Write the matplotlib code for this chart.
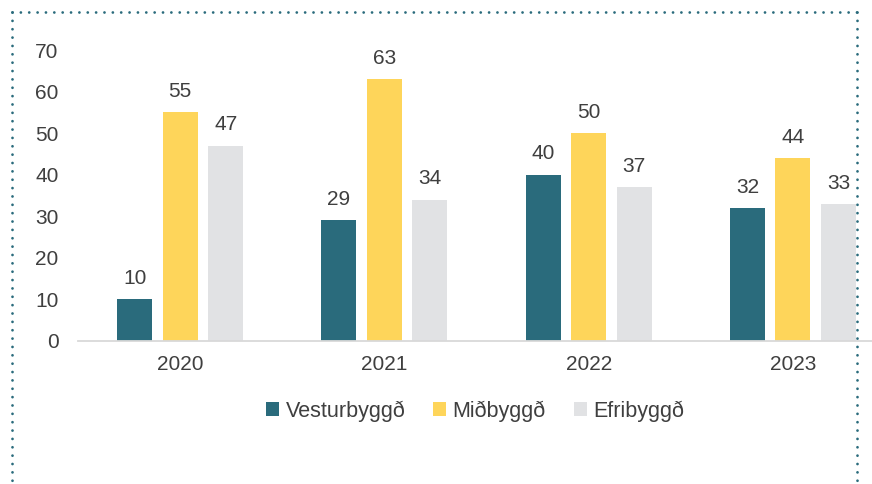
import matplotlib
matplotlib.use("Agg")
import matplotlib.pyplot as plt
from matplotlib.lines import Line2D
import numpy as np

plt.rcParams['font.family'] = ['Liberation Sans', 'DejaVu Sans']

years = ["2020", "2021", "2022", "2023"]
series_names = ["Vesturbyggð", "Miðbyggð", "Efribyggð"]
vesturbyggd = [10, 29, 40, 32]
midbyggd = [55, 63, 50, 44]
efribyggd = [47, 34, 37, 33]
yticks = [0, 10, 20, 30, 40, 50, 60, 70]

colors = ["#2a6b7c", "#fed55a", "#e1e2e4"]
text_color = "#3f3f3f"

W, H = 872, 484
fig = plt.figure(figsize=(W / 100, H / 100), dpi=100)
ax_left, ax_right = 78 / W, 895 / W
ax_bottom, ax_top = (H - 341) / H, (H - 50) / H
ax = fig.add_axes([ax_left, ax_bottom, ax_right - ax_left, ax_top - ax_bottom])

x = np.arange(len(years))
bw = 35 / 204
step = 45.5 / 204
handles = []
for i, (vals, name) in enumerate(zip([vesturbyggd, midbyggd, efribyggd], series_names)):
    pos = x + (i - 1) * step
    b = ax.bar(pos, vals, width=bw, color=colors[i], label=name, zorder=2)
    handles.append(b)
    for p, v in zip(pos, vals):
        ax.text(p, v + 2.7, str(v), ha='center', va='bottom', fontsize=15, color=text_color)

ax.set_xlim(-0.5, 3.5)
ax.set_ylim(0, 70)
ax.set_xticks(x)
ax.set_xticklabels(years)
ax.set_yticks(yticks)
for s in ['top', 'right', 'left']:
    ax.spines[s].set_visible(False)
ax.spines['bottom'].set_color('#d9d9d9')
ax.spines['bottom'].set_linewidth(1.3)
ax.tick_params(axis='both', length=0, labelsize=15, colors=text_color)
ax.tick_params(axis='y', pad=14)
ax.tick_params(axis='x', pad=10)

leg = fig.legend(handles=handles, labels=series_names, loc='center',
                 bbox_to_anchor=(475 / W, 1 - 411 / H), ncol=3, frameon=False,
                 fontsize=15.5, handlelength=0.6, handleheight=0.6, handletextpad=0.3,
                 columnspacing=1.3)
for t in leg.get_texts():
    t.set_color(text_color)

# dotted border
dot_kw = dict(color="#2a6b7c", linewidth=2.0, linestyle=(0, (0.01, 3)),
              dash_capstyle='round', solid_capstyle='round', transform=fig.transFigure)
top_y = 1 - 12 / H
lx = 12 / W
rx = 857 / W
fig.add_artist(Line2D([lx, rx], [top_y, top_y], **dot_kw))
fig.add_artist(Line2D([lx, lx], [top_y, 0], **dot_kw))
fig.add_artist(Line2D([rx, rx], [top_y, 0], **dot_kw))

fig.savefig("out.png", dpi=100)
